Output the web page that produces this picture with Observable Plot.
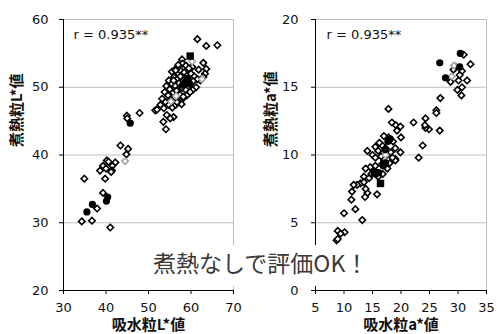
<!DOCTYPE html>
<html>
<head>
<meta charset="utf-8">
<script src="https://cdn.jsdelivr.net/npm/d3@7"></script>
<script src="https://cdn.jsdelivr.net/npm/@observablehq/plot@0.6"></script>
<style>
  html, body { margin: 0; padding: 0; background: #fff; }
  #wrap { position: relative; width: 497px; height: 334px; overflow: hidden; background: #fff; }
  #left { position: absolute; left: 0; top: 0; }
  #right { position: absolute; left: 248px; top: 0; }
  #note { position: absolute; left: 148px; top: 245px; height: 41px; line-height: 34px; padding: 0 5px;
          background: #fff; color: #3a3a3a; font-family: "Noto Sans CJK JP", sans-serif; font-size: 23px; white-space: nowrap; }
  svg text { fill: #111; }
</style>
</head>
<body>
<div id="wrap">
  <div id="left"></div>
  <div id="right"></div>
  <div id="note"></div>
</div>
<script>
// ---------- Data: left panel (L*) ----------
const leftXTitle = "吸水粒L*値";
const leftYTitle = "煮熱粒L*値";
const leftXTicks = [30, 40, 50, 60, 70];
const leftYTicks = [20, 30, 40, 50, 60];
const leftOpen = [
  [61.5,57.1],[63.6,56.1],[66.2,56.2],[57.9,54.1],[58.0,53.5],[62.9,53.6],[63.6,52.7],[63.3,52.0],[62.9,51.5],[62.2,51.0],
  [55.5,52.3],[56.2,52.6],[57.0,52.0],[57.6,52.4],[58.4,52.2],[59.2,51.8],[60.0,52.0],[60.8,51.6],[61.5,51.2],[56.0,51.5],
  [56.8,51.2],[57.5,51.6],[58.2,51.0],[59.0,50.6],[59.8,50.4],[60.5,50.9],[61.2,50.0],[54.8,51.0],[55.5,50.5],[56.3,50.2],
  [57.2,50.6],[57.9,49.9],[58.8,49.6],[59.6,49.2],[60.4,49.6],[54.2,50.2],[55.0,49.7],[55.8,49.2],[56.6,49.5],[57.4,48.9],
  [58.2,48.4],[59.0,48.8],[53.8,49.3],[54.6,48.8],[55.4,48.2],[56.2,48.5],[57.0,47.9],[57.8,47.5],[53.2,48.3],[54.0,47.8],
  [54.8,47.4],[55.6,47.0],[56.4,47.4],[52.8,47.4],[53.6,46.9],[51.6,46.6],[52.0,46.7],[54.3,45.9],[55.9,45.6],[53.5,44.9],
  [54.1,43.8],[55.1,45.4],[56.7,47.8],[58.2,48.6],[59.8,49.3],[55.9,51.0],[56.4,52.5],[58.8,53.2],[60.3,53.0],[61.8,52.6],
  [57.0,53.3],[59.5,52.8],
  [44.9,45.8],[45.0,45.4],[47.9,46.2],[43.4,41.4],[45.2,40.9],[44.8,40.1],[42.2,38.9],[41.5,38.4],[40.2,39.2],[40.6,39.0],
  [39.3,38.4],[38.6,37.7],[41.4,37.7],[41.2,37.5],[40.0,38.0],[34.9,36.5],[39.8,36.5],[39.3,34.4],[37.9,32.1],[34.3,30.2],
  [36.7,30.3],[41.0,29.3]
];
const leftGray = [[44.5,39.1],[60.3,53.8],[62.6,51.2],[56.5,48.7],[55.3,47.9]];
const leftCircles = [[35.5,31.6],[36.8,32.7],[40.1,33.2],[40.4,33.8],[45.7,44.7],[58.6,50.8],[59.2,51.3],[58.0,50.3],[59.6,50.6]];
const leftSquares = [[59.8,54.6]];

// ---------- Data: right panel (a*) ----------
const rightXTitle = "吸水粒a*値";
const rightYTitle = "煮熱粒a*値";
const rightXTicks = [5, 10, 15, 20, 25, 30, 35];
const rightYTicks = [0, 5, 10, 15, 20];
const rightOpen = [
  [31.0,17.4],[32.2,16.7],[29.6,16.5],[30.7,16.2],[30.1,15.5],[31.6,15.5],[29.9,14.8],[30.7,15.0],[30.6,14.4],[28.7,15.4],
  [30.3,15.9],[29.2,16.3],
  [26.9,14.2],[26.2,13.3],[26.2,13.1],[26.8,11.8],[24.9,11.9],[24.3,12.0],[24.2,12.2],[24.3,12.7],[22.2,12.4],[23.8,10.7],
  [23.1,9.8],
  [17.8,13.4],[18.4,12.4],[19.1,12.2],[19.9,12.1],[19.3,11.8],[20.0,11.3],[19.9,10.2],[19.0,9.7],[17.8,11.3],[16.7,10.7],
  [14.1,10.3],[15.0,10.0],[15.5,10.6],[16.2,10.9],[17.0,11.4],[18.6,11.0],[19.0,10.5],[19.0,9.6],[18.2,10.2],[17.5,10.0],
  [16.5,9.9],[15.5,9.8],[14.6,9.1],[13.8,9.0],[13.5,8.4],[12.9,7.9],[12.3,7.8],[11.4,7.3],[11.3,6.7],[14.1,7.2],
  [13.7,6.9],[15.8,7.1],[13.8,7.5],[13.5,8.0],[14.4,8.3],[15.2,8.8],[16.0,8.4],[16.6,9.3],[17.3,10.5],[18.0,9.4],
  [18.5,9.8],[15.5,9.2],[16.0,10.3],[14.8,8.6],[16.8,8.6],[17.6,9.0],
  [12.0,6.0],[13.2,5.2],[10.0,5.7],[8.9,4.4],[10.1,4.3],[8.7,3.7],[8.9,3.8],[9.4,4.2],[11.7,7.8]
];
const rightGray = [[28.9,15.8],[29.3,16.6],[17.3,10.0]];
const rightCircles = [[30.4,17.5],[26.8,16.8],[30.3,16.5],[27.8,15.7],[18.1,11.2],[17.7,11.0],[17.2,10.4],[16.9,9.2],[17.3,9.4],[15.6,8.6],[16.1,8.7]];
const rightSquares = [[16.4,7.9],[17.0,9.4],[15.3,8.7]];

const rLabel = "r = 0.935**";
const noteText = "煮熱なしで評価OK！";

function panel(o) {
  const fx = d => d[0], fy = d => d[1];
  return Plot.plot({
    width: o.width, height: 334,
    marginLeft: o.ml, marginRight: o.mr, marginTop: 19, marginBottom: 44,
    style: {fontFamily: "DejaVu Sans", fontSize: "13px", background: "transparent", color: "#111"},
    x: {domain: o.xd},
    y: {domain: o.yd},
    marks: [
      Plot.frame({stroke: "#bfbfbf"}),
      Plot.gridY(o.yt.slice(1, -1), {stroke: "#bfbfbf", strokeOpacity: 1}),
      Plot.dot(o.open, {x: fx, y: fy, symbol: "diamond2", r: 2.9, stroke: "#000", fill: "#fff", strokeWidth: 1.6}),
      Plot.dot(o.gray, {x: fx, y: fy, symbol: "diamond2", r: 2.9, stroke: "#a6a6a6", fill: "#fff", strokeWidth: 1.6}),
      Plot.dot(o.circles, {x: fx, y: fy, symbol: "circle", r: 3.6, fill: "#000"}),
      Plot.dot(o.squares, {x: fx, y: fy, symbol: "square", r: 4.2, fill: "#000"}),
      Plot.ruleX([o.xd[0]], {stroke: "#000"}),
      Plot.ruleY([o.yd[0]], {stroke: "#000"}),
      Plot.axisX({ticks: o.xt, tickSize: 4, tickPadding: 8, label: null, stroke: "#000"}),
      Plot.axisY({ticks: o.yt, tickSize: 4, tickPadding: o.yp, label: null, stroke: "#000"}),
      Plot.text([rLabel], {frameAnchor: "top-left", dx: o.rdx, dy: 15, textAnchor: "start", lineAnchor: "middle", fontSize: 13, fill: "#111"}),
      Plot.text([o.xTitle], {frameAnchor: "bottom", dy: 35, lineAnchor: "middle", fontSize: 15, fontWeight: "bold", fontFamily: "Noto Sans CJK JP", fill: "#111"}),
      Plot.text([o.yTitle], {frameAnchor: "left", dx: o.ydx, dy: -8, rotate: -90, lineAnchor: "middle", fontSize: 15, fontWeight: "bold", fontFamily: "Noto Sans CJK JP", fill: "#111"})
    ]
  });
}

document.getElementById("left").appendChild(panel({
  width: 248, ml: 63, mr: 15, xd: [30, 70], yd: [20, 60], xt: leftXTicks, yt: leftYTicks, yp: 11,
  open: leftOpen, gray: leftGray, circles: leftCircles, squares: leftSquares,
  xTitle: leftXTitle, yTitle: leftYTitle, rdx: 10, ydx: -46
}));
document.getElementById("right").appendChild(panel({
  width: 249, ml: 67, mr: 11, xd: [5, 35], yd: [0, 20], xt: rightXTicks, yt: rightYTicks, yp: 13,
  open: rightOpen, gray: rightGray, circles: rightCircles, squares: rightSquares,
  xTitle: rightXTitle, yTitle: rightYTitle, rdx: 11, ydx: -44
}));
document.getElementById("note").textContent = noteText;
</script>
</body>
</html>
